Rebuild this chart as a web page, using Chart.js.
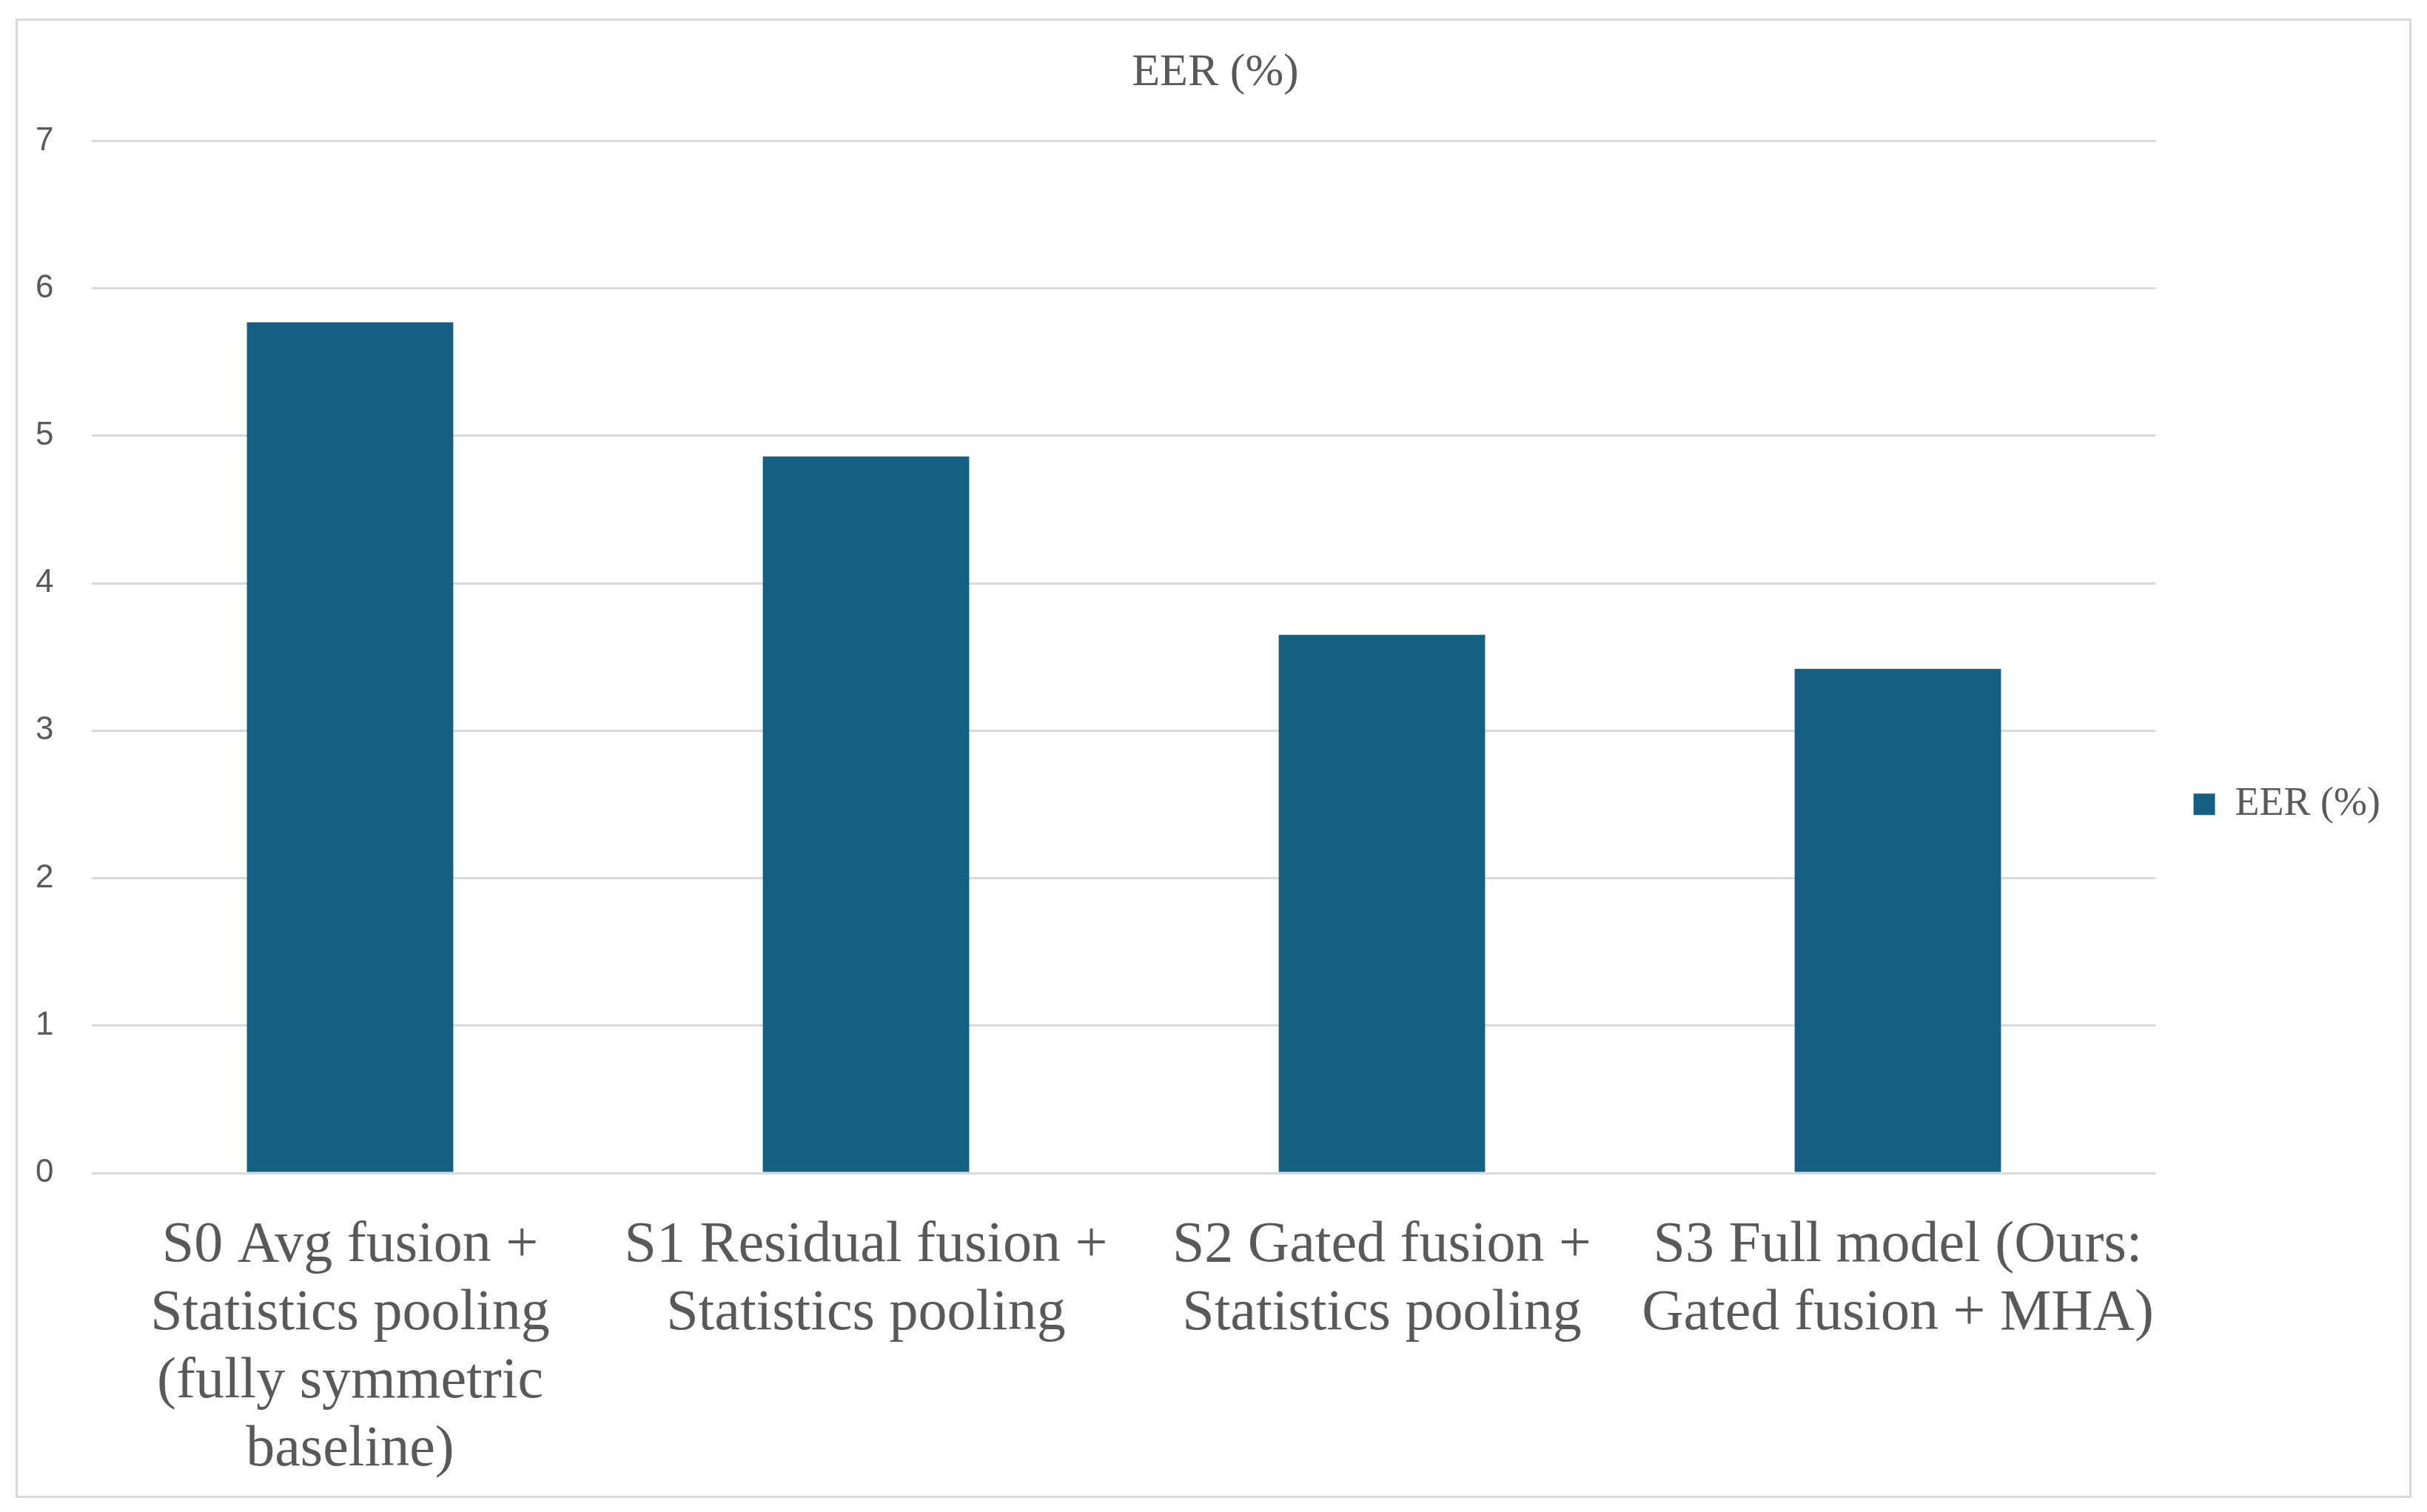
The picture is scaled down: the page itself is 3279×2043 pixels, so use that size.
<!DOCTYPE html>
<html>
<head>
<meta charset="utf-8">
<script src="https://cdn.jsdelivr.net/npm/chart.js@4.4.1/dist/chart.umd.min.js"></script>
<style>
  html, body { margin: 0; padding: 0; background: #fff; }
  #wrap { position: relative; width: 3279px; height: 2043px; }
  #frame {
    position: absolute; left: 21px; top: 25px; width: 3231px; height: 1993px;
    border: 3px solid #d9d9d9; pointer-events: none;
  }
  canvas { position: absolute; left: 0; top: 0; }
</style>
</head>
<body>
<div id="wrap">
  <canvas id="chart" width="3279" height="2043"></canvas>
  <div id="frame"></div>
</div>
<script>
// Données
const categories = [
    ['S0 Avg fusion +', 'Statistics pooling', '(fully symmetric', 'baseline)'],
    ['S1 Residual fusion +', 'Statistics pooling'],
    ['S2 Gated fusion +', 'Statistics pooling'],
    ['S3 Full model (Ours:', 'Gated fusion + MHA)']
];
const seriesName = 'EER (%)';
const eerValues = [5.77, 4.86, 3.65, 3.42];
const yTicks = [0, 1, 2, 3, 4, 5, 6, 7];

const textColor = '#595959';
const serif = '"Liberation Serif", "Times New Roman", serif';
const sans = '"Liberation Sans", Arial, sans-serif';

const ctx = document.getElementById('chart');

new Chart(ctx, {
    type: 'bar',
    data: {
        labels: categories,
        datasets: [{
            label: seriesName,
            data: eerValues,
            backgroundColor: '#156082',
            borderWidth: 0,
            categoryPercentage: 1,
            barPercentage: 0.4
        }]
    },
    options: {
        responsive: false,
        animation: false,
        devicePixelRatio: 1,
        layout: { padding: { top: 28, left: -4, right: 53, bottom: -8 } },
        plugins: {
            title: {
                display: true,
                // espaces insécables : recentre le titre sur toute la largeur
                text: '\u00a0\u00a0\u00a0\u00a0' + seriesName,
                color: textColor,
                font: { family: serif, size: 62, weight: 'normal', lineHeight: 1.2 },
                padding: { top: 34, bottom: 54 }
            },
            legend: {
                position: 'right',
                title: { display: true, text: ' ', font: { size: 12 }, padding: { top: 40, bottom: 40 } },
                labels: {
                    color: textColor,
                    font: { family: serif, size: 54 },
                    boxWidth: 29,
                    boxHeight: 29,
                    padding: 51
                }
            },
            tooltip: { enabled: false }
        },
        scales: {
            x: {
                grid: { display: false },
                border: { display: false },
                ticks: {
                    color: textColor,
                    font: { family: serif, size: 78, lineHeight: '92px' },
                    padding: 45,
                    maxRotation: 0,
                    autoSkip: false
                }
            },
            y: {
                min: yTicks[0],
                max: yTicks[yTicks.length - 1],
                afterBuildTicks: (axis) => { axis.ticks = yTicks.map(v => ({ value: v })); },
                grid: { color: '#d9d9d9', lineWidth: 3, drawTicks: false },
                border: { display: false },
                ticks: {
                    color: textColor,
                    font: { family: sans, size: 44 },
                    padding: 52
                }
            }
        }
    }
});
</script>
</body>
</html>
